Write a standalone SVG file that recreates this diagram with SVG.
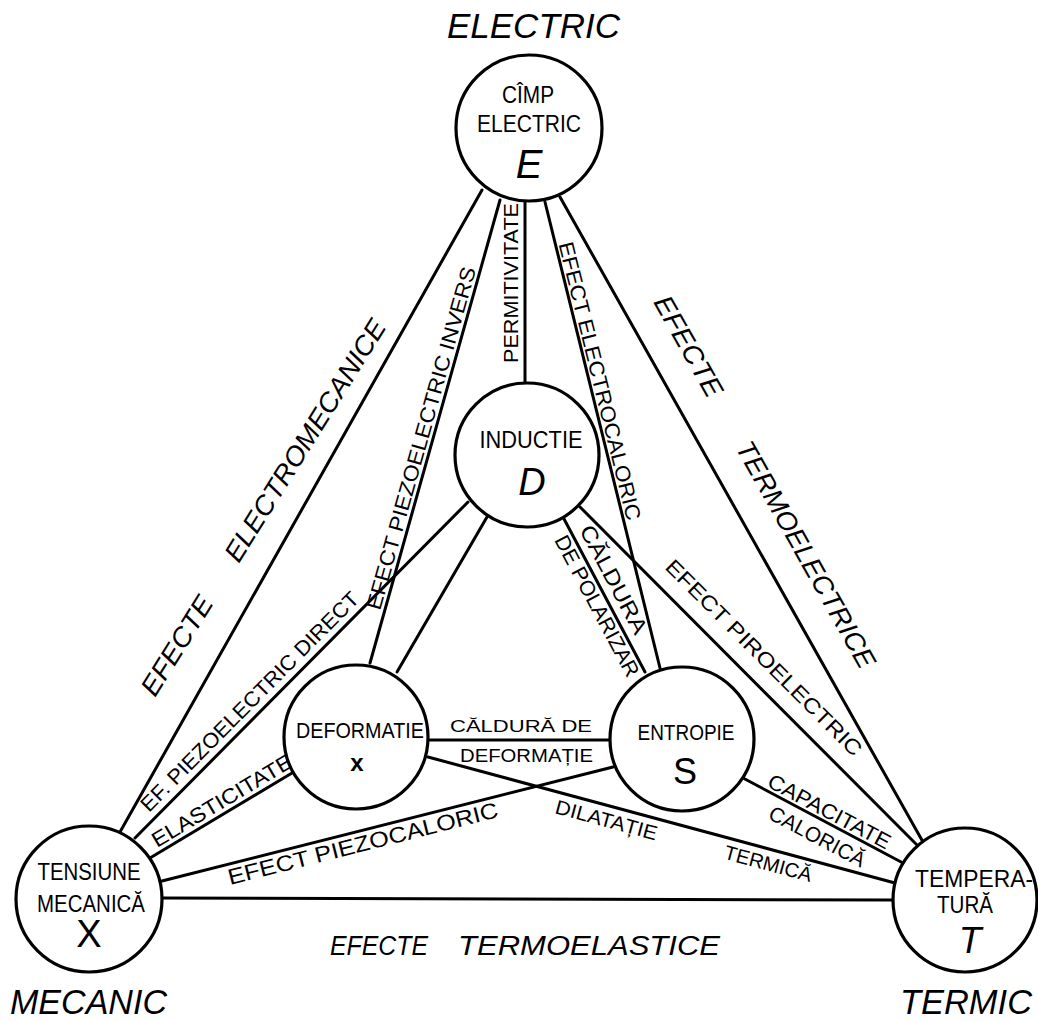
<svg xmlns="http://www.w3.org/2000/svg" width="1038" height="1021" viewBox="0 0 1038 1021">
  <style>
    .ln { stroke: #000; stroke-width: 3; fill: none; stroke-linecap: round; }
    .node circle { fill: #fff; stroke: #000; stroke-width: 3.2; }
    text { font-family: "Liberation Sans", Arial, sans-serif; fill: #000; }
    .title { font-size: 35px; font-style: italic; }
    .group { font-size: 27px; font-style: italic; }
    .lbl { font-size: 21px; }
    .nl { font-size: 23px; text-anchor: middle; }
    .big { font-size: 38px; font-style: italic; text-anchor: middle; }
    .up { font-style: normal; }
  </style>

  <rect width="1038" height="1021" fill="#fff"/>

  <!-- domain titles -->
  <g id="titles">
    <text class="title" x="447" y="38" textLength="173" lengthAdjust="spacingAndGlyphs">ELECTRIC</text>
    <text class="title" x="10" y="1014" textLength="157" lengthAdjust="spacingAndGlyphs">MECANIC</text>
    <text class="title" x="900" y="1014" textLength="132" lengthAdjust="spacingAndGlyphs">TERMIC</text>
  </g>

  <!-- connectors -->
  <g id="connectors">
    <line class="ln" x1="482" y1="190" x2="120" y2="832"/>
    <line class="ln" x1="500" y1="200" x2="370" y2="663"/>
    <line class="ln" x1="525" y1="200" x2="525" y2="384"/>
    <line class="ln" x1="545" y1="202" x2="660" y2="668"/>
    <line class="ln" x1="560" y1="197" x2="923" y2="842"/>
    <line class="ln" x1="468" y1="502" x2="135" y2="838"/>
    <line class="ln" x1="487" y1="517" x2="397" y2="672"/>
    <line class="ln" x1="563" y1="517" x2="645" y2="672"/>
    <line class="ln" x1="580" y1="507" x2="918" y2="846"/>
    <line class="ln" x1="150" y1="858" x2="292" y2="773"/>
    <line class="ln" x1="158" y1="882" x2="613" y2="767"/>
    <line class="ln" x1="162" y1="898" x2="893" y2="900"/>
    <line class="ln" x1="428" y1="740" x2="610" y2="740"/>
    <line class="ln" x1="428" y1="757" x2="895" y2="883"/>
    <line class="ln" x1="743" y1="778" x2="903" y2="863"/>
  </g>

  <!-- connector labels -->
  <g id="connector-labels">
    <g transform="translate(155,698) rotate(-58)">
      <text class="group" x="0" y="0" textLength="112" lengthAdjust="spacingAndGlyphs">EFECTE</text>
      <text class="group" x="158" y="0" textLength="280" lengthAdjust="spacingAndGlyphs">ELECTROMECANICE</text>
    </g>
    <g transform="translate(653,302) rotate(60.6)">
      <text class="group" x="0" y="0" textLength="112" lengthAdjust="spacingAndGlyphs">EFECTE</text>
      <text class="group" x="167" y="0" textLength="256" lengthAdjust="spacingAndGlyphs">TERMOELECTRICE</text>
    </g>
    <text class="group" x="330" y="955" textLength="98" lengthAdjust="spacingAndGlyphs">EFECTE</text>
    <text class="group" x="458" y="955" textLength="262" lengthAdjust="spacingAndGlyphs">TERMOELASTICE</text>

    <text class="lbl" transform="translate(518,363) rotate(-90)" textLength="160" lengthAdjust="spacingAndGlyphs">PERMITIVITATE</text>
    <text class="lbl" transform="translate(380,611) rotate(-74.3)" textLength="355" lengthAdjust="spacingAndGlyphs">EFECT PIEZOELECTRIC INVERS</text>
    <text class="lbl" transform="translate(149,813) rotate(-45.2)" textLength="300" lengthAdjust="spacingAndGlyphs">EF. PIEZOELECTRIC DIRECT</text>
    <text class="lbl" transform="translate(157,848) rotate(-30.9)" textLength="160" lengthAdjust="spacingAndGlyphs">ELASTICITATE</text>
    <text class="lbl" transform="translate(230,885) rotate(-14.2)" style="font-size:22px" textLength="278" lengthAdjust="spacingAndGlyphs">EFECT PIEZOCALORIC</text>
    <text class="lbl" x="450" y="732" style="font-size:17px" textLength="142" lengthAdjust="spacingAndGlyphs">CĂLDURĂ DE</text>
    <text class="lbl" x="460" y="762" style="font-size:18px" textLength="133" lengthAdjust="spacingAndGlyphs">DEFORMAȚIE</text>
    <text class="lbl" transform="translate(579,530) rotate(62.1)" style="font-size:22px" textLength="120" lengthAdjust="spacingAndGlyphs">CĂLDURA</text>
    <text class="lbl" transform="translate(554,540) rotate(62.1)" textLength="157" lengthAdjust="spacingAndGlyphs">DE POLARIZAR</text>
    <text class="lbl" transform="translate(558.5,244) rotate(76.1)" textLength="286" lengthAdjust="spacingAndGlyphs">EFECT ELECTROCALORIC</text>
    <text class="lbl" transform="translate(664,568) rotate(45)" textLength="268" lengthAdjust="spacingAndGlyphs">EFECT PIROELECTRIC</text>
    <text class="lbl" transform="translate(766,786) rotate(28)" textLength="136" lengthAdjust="spacingAndGlyphs">CAPACITATE</text>
    <text class="lbl" transform="translate(767,818) rotate(28)" textLength="106" lengthAdjust="spacingAndGlyphs">CALORICĂ</text>
    <g transform="translate(554,813) rotate(15.1)">
      <text class="lbl" x="0" y="0" style="font-size:20px" textLength="105" lengthAdjust="spacingAndGlyphs">DILATAȚIE</text>
      <text class="lbl" x="175" y="0" style="font-size:20px" textLength="90" lengthAdjust="spacingAndGlyphs">TERMICĂ</text>
    </g>
  </g>

  <!-- nodes -->
  <g id="node-E" class="node">
    <circle cx="529" cy="128" r="73"/>
    <text class="nl" x="528" y="103" textLength="52" lengthAdjust="spacingAndGlyphs">CÎMP</text>
    <text class="nl" x="529" y="132" textLength="104" lengthAdjust="spacingAndGlyphs">ELECTRIC</text>
    <text class="big" x="529" y="178" style="font-size:40px">E</text>
  </g>
  <g id="node-D" class="node">
    <circle cx="527" cy="455" r="72"/>
    <text class="nl" x="531" y="448" textLength="103" lengthAdjust="spacingAndGlyphs">INDUCTIE</text>
    <text class="big" x="532" y="495">D</text>
  </g>
  <g id="node-x" class="node">
    <circle cx="356" cy="737" r="72"/>
    <text class="nl" x="360" y="738" style="font-size:22px" textLength="128" lengthAdjust="spacingAndGlyphs">DEFORMATIE</text>
    <text class="nl" x="357" y="771" style="font-size:24px;font-weight:bold">x</text>
  </g>
  <g id="node-S" class="node">
    <circle cx="682" cy="739" r="72"/>
    <text class="nl" x="686" y="740" style="font-size:22px" textLength="97" lengthAdjust="spacingAndGlyphs">ENTROPIE</text>
    <text class="big up" x="685" y="784" style="font-size:36px">S</text>
  </g>
  <g id="node-X" class="node">
    <circle cx="89" cy="899" r="73"/>
    <text class="nl" x="89" y="880" textLength="103" lengthAdjust="spacingAndGlyphs">TENSIUNE</text>
    <text class="nl" x="91" y="912" textLength="108" lengthAdjust="spacingAndGlyphs">MECANICĂ</text>
    <text class="big up" x="89" y="947">X</text>
  </g>
  <g id="node-T" class="node">
    <circle cx="965" cy="900" r="72"/>
    <text x="915" y="887" style="font-size:23px" textLength="118" lengthAdjust="spacingAndGlyphs">TEMPERA-</text>
    <text class="nl" x="965" y="913" textLength="56" lengthAdjust="spacingAndGlyphs">TURĂ</text>
    <text class="big" x="970" y="953" style="font-size:37px">T</text>
  </g>
</svg>
